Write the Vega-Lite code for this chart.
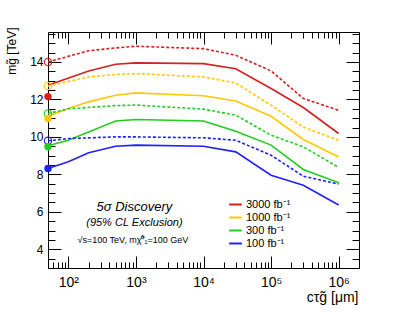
{
  "$schema": "https://vega.github.io/schema/vega-lite/v6.json",
  "width": 311,
  "height": 236,
  "autosize": {"type": "none"},
  "padding": {"left": 48, "top": 32, "right": 40, "bottom": 48},
  "background": "white",
  "config": {
    "font": "Liberation Sans",
    "view": {"stroke": "black", "strokeWidth": 1},
    "axis": {"domain": false, "grid": false, "tickColor": "black", "tickWidth": 1, "labelFont": "Liberation Sans", "titleFont": "Liberation Sans", "labelColor": "black", "titleColor": "black", "titleFontWeight": "normal"}
  },
  "data": {"values": [
    {"lumi": "3000 fb⁻¹", "kind": "disc", "ctau": 50, "m": 12.76},
    {"lumi": "3000 fb⁻¹", "kind": "disc", "ctau": 200, "m": 13.52},
    {"lumi": "3000 fb⁻¹", "kind": "disc", "ctau": 500, "m": 13.88},
    {"lumi": "3000 fb⁻¹", "kind": "disc", "ctau": 1000, "m": 13.95},
    {"lumi": "3000 fb⁻¹", "kind": "disc", "ctau": 10000, "m": 13.91},
    {"lumi": "3000 fb⁻¹", "kind": "disc", "ctau": 30000, "m": 13.64},
    {"lumi": "3000 fb⁻¹", "kind": "disc", "ctau": 100000, "m": 12.58},
    {"lumi": "3000 fb⁻¹", "kind": "disc", "ctau": 300000, "m": 11.57},
    {"lumi": "3000 fb⁻¹", "kind": "disc", "ctau": 1000000, "m": 10.18},
    {"lumi": "1000 fb⁻¹", "kind": "disc", "ctau": 50, "m": 11.1},
    {"lumi": "1000 fb⁻¹", "kind": "disc", "ctau": 100, "m": 11.51},
    {"lumi": "1000 fb⁻¹", "kind": "disc", "ctau": 200, "m": 11.87},
    {"lumi": "1000 fb⁻¹", "kind": "disc", "ctau": 500, "m": 12.22},
    {"lumi": "1000 fb⁻¹", "kind": "disc", "ctau": 1000, "m": 12.35},
    {"lumi": "1000 fb⁻¹", "kind": "disc", "ctau": 10000, "m": 12.2},
    {"lumi": "1000 fb⁻¹", "kind": "disc", "ctau": 30000, "m": 11.92},
    {"lumi": "1000 fb⁻¹", "kind": "disc", "ctau": 100000, "m": 11.1},
    {"lumi": "1000 fb⁻¹", "kind": "disc", "ctau": 300000, "m": 9.86},
    {"lumi": "1000 fb⁻¹", "kind": "disc", "ctau": 1000000, "m": 8.93},
    {"lumi": "300 fb⁻¹", "kind": "disc", "ctau": 50, "m": 9.53},
    {"lumi": "300 fb⁻¹", "kind": "disc", "ctau": 100, "m": 9.82},
    {"lumi": "300 fb⁻¹", "kind": "disc", "ctau": 500, "m": 10.85},
    {"lumi": "300 fb⁻¹", "kind": "disc", "ctau": 1000, "m": 10.93},
    {"lumi": "300 fb⁻¹", "kind": "disc", "ctau": 10000, "m": 10.85},
    {"lumi": "300 fb⁻¹", "kind": "disc", "ctau": 30000, "m": 10.3},
    {"lumi": "300 fb⁻¹", "kind": "disc", "ctau": 100000, "m": 9.56},
    {"lumi": "300 fb⁻¹", "kind": "disc", "ctau": 300000, "m": 8.26},
    {"lumi": "300 fb⁻¹", "kind": "disc", "ctau": 1000000, "m": 7.55},
    {"lumi": "100 fb⁻¹", "kind": "disc", "ctau": 50, "m": 8.31},
    {"lumi": "100 fb⁻¹", "kind": "disc", "ctau": 100, "m": 8.67},
    {"lumi": "100 fb⁻¹", "kind": "disc", "ctau": 200, "m": 9.15},
    {"lumi": "100 fb⁻¹", "kind": "disc", "ctau": 500, "m": 9.5},
    {"lumi": "100 fb⁻¹", "kind": "disc", "ctau": 1000, "m": 9.56},
    {"lumi": "100 fb⁻¹", "kind": "disc", "ctau": 10000, "m": 9.5},
    {"lumi": "100 fb⁻¹", "kind": "disc", "ctau": 30000, "m": 9.2},
    {"lumi": "100 fb⁻¹", "kind": "disc", "ctau": 100000, "m": 7.95},
    {"lumi": "100 fb⁻¹", "kind": "disc", "ctau": 300000, "m": 7.42},
    {"lumi": "100 fb⁻¹", "kind": "disc", "ctau": 1000000, "m": 6.36},
    {"lumi": "3000 fb⁻¹", "kind": "excl", "ctau": 50, "m": 14.0},
    {"lumi": "3000 fb⁻¹", "kind": "excl", "ctau": 200, "m": 14.6},
    {"lumi": "3000 fb⁻¹", "kind": "excl", "ctau": 500, "m": 14.75},
    {"lumi": "3000 fb⁻¹", "kind": "excl", "ctau": 1000, "m": 14.84},
    {"lumi": "3000 fb⁻¹", "kind": "excl", "ctau": 10000, "m": 14.71},
    {"lumi": "3000 fb⁻¹", "kind": "excl", "ctau": 30000, "m": 14.36},
    {"lumi": "3000 fb⁻¹", "kind": "excl", "ctau": 100000, "m": 13.52},
    {"lumi": "3000 fb⁻¹", "kind": "excl", "ctau": 300000, "m": 12.05},
    {"lumi": "3000 fb⁻¹", "kind": "excl", "ctau": 1000000, "m": 11.42},
    {"lumi": "1000 fb⁻¹", "kind": "excl", "ctau": 50, "m": 12.72},
    {"lumi": "1000 fb⁻¹", "kind": "excl", "ctau": 200, "m": 13.2},
    {"lumi": "1000 fb⁻¹", "kind": "excl", "ctau": 500, "m": 13.33},
    {"lumi": "1000 fb⁻¹", "kind": "excl", "ctau": 1000, "m": 13.38},
    {"lumi": "1000 fb⁻¹", "kind": "excl", "ctau": 10000, "m": 13.2},
    {"lumi": "1000 fb⁻¹", "kind": "excl", "ctau": 30000, "m": 12.88},
    {"lumi": "1000 fb⁻¹", "kind": "excl", "ctau": 100000, "m": 11.69},
    {"lumi": "1000 fb⁻¹", "kind": "excl", "ctau": 300000, "m": 10.53},
    {"lumi": "1000 fb⁻¹", "kind": "excl", "ctau": 1000000, "m": 9.82},
    {"lumi": "300 fb⁻¹", "kind": "excl", "ctau": 50, "m": 11.25},
    {"lumi": "300 fb⁻¹", "kind": "excl", "ctau": 100, "m": 11.5},
    {"lumi": "300 fb⁻¹", "kind": "excl", "ctau": 500, "m": 11.67},
    {"lumi": "300 fb⁻¹", "kind": "excl", "ctau": 1000, "m": 11.7},
    {"lumi": "300 fb⁻¹", "kind": "excl", "ctau": 10000, "m": 11.48},
    {"lumi": "300 fb⁻¹", "kind": "excl", "ctau": 30000, "m": 11.16},
    {"lumi": "300 fb⁻¹", "kind": "excl", "ctau": 100000, "m": 10.09},
    {"lumi": "300 fb⁻¹", "kind": "excl", "ctau": 300000, "m": 9.47},
    {"lumi": "300 fb⁻¹", "kind": "excl", "ctau": 1000000, "m": 8.37},
    {"lumi": "100 fb⁻¹", "kind": "excl", "ctau": 50, "m": 9.79},
    {"lumi": "100 fb⁻¹", "kind": "excl", "ctau": 100, "m": 9.91},
    {"lumi": "100 fb⁻¹", "kind": "excl", "ctau": 500, "m": 10.0},
    {"lumi": "100 fb⁻¹", "kind": "excl", "ctau": 1000, "m": 10.0},
    {"lumi": "100 fb⁻¹", "kind": "excl", "ctau": 10000, "m": 9.95},
    {"lumi": "100 fb⁻¹", "kind": "excl", "ctau": 30000, "m": 9.82},
    {"lumi": "100 fb⁻¹", "kind": "excl", "ctau": 100000, "m": 9.02},
    {"lumi": "100 fb⁻¹", "kind": "excl", "ctau": 300000, "m": 7.9},
    {"lumi": "100 fb⁻¹", "kind": "excl", "ctau": 1000000, "m": 7.48},
    {"lumi": "3000 fb⁻¹", "kind": "discpt", "ctau": 50, "m": 12.15},
    {"lumi": "1000 fb⁻¹", "kind": "discpt", "ctau": 50, "m": 10.98},
    {"lumi": "300 fb⁻¹", "kind": "discpt", "ctau": 50, "m": 9.47},
    {"lumi": "100 fb⁻¹", "kind": "discpt", "ctau": 50, "m": 8.31},
    {"lumi": "3000 fb⁻¹", "kind": "exclpt", "ctau": 50, "m": 14.0},
    {"lumi": "1000 fb⁻¹", "kind": "exclpt", "ctau": 50, "m": 12.72},
    {"lumi": "300 fb⁻¹", "kind": "exclpt", "ctau": 50, "m": 11.25},
    {"lumi": "100 fb⁻¹", "kind": "exclpt", "ctau": 50, "m": 9.79}
  ]},
  "layer": [
    {
      "transform": [{"filter": "datum.kind == 'disc'"}],
      "mark": {"type": "line", "strokeWidth": 1.6},
      "encoding": {
        "x": {"field": "ctau", "type": "quantitative", "scale": {"type": "log", "domain": [50, 2000000], "nice": false},
          "axis": {"orient": "bottom", "values": [100, 1000, 10000, 100000, 1000000], "ticks": false, "labelPadding": 7, "labelFontSize": 14,
            "labelExpr": "datum.value == 100 ? '10²' : datum.value == 1000 ? '10³' : datum.value == 10000 ? '10⁴' : datum.value == 100000 ? '10⁵' : '10⁶'",
            "title": "cτg̃ [μm]", "titleFontSize": 14, "titleX": 310, "titleY": 29, "titleAlign": "right", "titleBaseline": "middle"}},
        "y": {"field": "m", "type": "quantitative", "scale": {"domain": [3, 15.6], "nice": false, "zero": false},
          "axis": {"orient": "left", "values": [4, 6, 8, 10, 12, 14], "ticks": false, "labelPadding": 5, "labelFontSize": 12,
            "title": "mg̃ [TeV]", "titleFontSize": 12, "titleAngle": -90, "titleX": -37, "titleY": -5, "titleAlign": "right", "titleBaseline": "middle"}},
        "color": {"field": "lumi", "type": "nominal",
          "scale": {"domain": ["3000 fb⁻¹", "1000 fb⁻¹", "300 fb⁻¹", "100 fb⁻¹"], "range": ["#d42020", "#ffc800", "#22cc22", "#2020ff"]},
          "legend": {"orient": "none", "legendX": 180, "legendY": 165, "title": null, "symbolType": "stroke", "symbolStrokeWidth": 2, "symbolSize": 160, "labelFontSize": 11, "labelFont": "Liberation Sans", "labelColor": "black", "rowPadding": -1, "labelOffset": 3}}
      }
    },
    {
      "transform": [{"filter": "datum.kind == 'excl'"}],
      "mark": {"type": "line", "strokeWidth": 1.6, "strokeDash": [3, 2]},
      "encoding": {
        "x": {"field": "ctau", "type": "quantitative", "scale": {"type": "log", "domain": [50, 2000000], "nice": false},
          "axis": {"orient": "top", "offset": -236, "values": [100, 1000, 10000, 100000, 1000000], "tickSize": 12, "labels": false, "title": null}},
        "y": {"field": "m", "type": "quantitative", "scale": {"domain": [3, 15.6], "nice": false, "zero": false},
          "axis": {"orient": "right", "offset": -311, "values": [4, 6, 8, 10, 12, 14], "tickSize": 13, "labels": false, "title": null}},
        "stroke": {"field": "lumi", "type": "nominal",
          "scale": {"domain": ["3000 fb⁻¹", "1000 fb⁻¹", "300 fb⁻¹", "100 fb⁻¹"], "range": ["#d42020", "#ffc800", "#22cc22", "#2020ff"]},
          "legend": null}
      }
    },
    {
      "transform": [{"filter": "datum.kind == 'exclpt'"}],
      "mark": {"type": "point", "filled": false, "size": 55, "strokeWidth": 1.1, "opacity": 1},
      "encoding": {
        "x": {"field": "ctau", "type": "quantitative", "scale": {"type": "log", "domain": [50, 2000000], "nice": false},
          "axis": {"orient": "bottom", "offset": -236, "values": [100, 1000, 10000, 100000, 1000000], "tickSize": 12, "labels": false, "title": null}},
        "y": {"field": "m", "type": "quantitative", "scale": {"domain": [3, 15.6], "nice": false, "zero": false},
          "axis": {"orient": "left", "offset": -311, "values": [4, 6, 8, 10, 12, 14], "tickSize": 13, "labels": false, "title": null}},
        "stroke": {"field": "lumi", "type": "nominal",
          "scale": {"domain": ["3000 fb⁻¹", "1000 fb⁻¹", "300 fb⁻¹", "100 fb⁻¹"], "range": ["#d42020", "#ffc800", "#22cc22", "#2020ff"]},
          "legend": null}
      }
    },
    {
      "transform": [{"filter": "datum.kind == 'discpt'"}],
      "mark": {"type": "point", "filled": true, "size": 55, "opacity": 1},
      "encoding": {
        "x": {"field": "ctau", "type": "quantitative", "scale": {"type": "log", "domain": [50, 2000000], "nice": false},
          "axis": {"orient": "top", "offset": -236, "values": [60, 70, 80, 90, 200, 300, 400, 500, 600, 700, 800, 900, 2000, 3000, 4000, 5000, 6000, 7000, 8000, 9000, 20000, 30000, 40000, 50000, 60000, 70000, 80000, 90000, 200000, 300000, 400000, 500000, 600000, 700000, 800000, 900000, 2000000], "tickSize": 6, "labels": false, "title": null}},
        "y": {"field": "m", "type": "quantitative", "scale": {"domain": [3, 15.6], "nice": false, "zero": false},
          "axis": {"orient": "right", "offset": -311, "values": [3, 3.5, 4.5, 5, 5.5, 6.5, 7, 7.5, 8.5, 9, 9.5, 10.5, 11, 11.5, 12.5, 13, 13.5, 14.5, 15, 15.5], "tickSize": 7, "labels": false, "title": null}},
        "fill": {"field": "lumi", "type": "nominal",
          "scale": {"domain": ["3000 fb⁻¹", "1000 fb⁻¹", "300 fb⁻¹", "100 fb⁻¹"], "range": ["#d42020", "#ffc800", "#22cc22", "#2020ff"]},
          "legend": null}
      }
    },
    {
      "data": {"values": [{"t": "5σ Discovery"}]},
      "mark": {"type": "text", "fontSize": 13, "fontStyle": "italic", "font": "Liberation Sans", "align": "center", "baseline": "middle", "color": "black"},
      "encoding": {
        "x": {"datum": 950, "type": "quantitative",
          "axis": {"orient": "bottom", "offset": -236, "values": [60, 70, 80, 90, 200, 300, 400, 500, 600, 700, 800, 900, 2000, 3000, 4000, 5000, 6000, 7000, 8000, 9000, 20000, 30000, 40000, 50000, 60000, 70000, 80000, 90000, 200000, 300000, 400000, 500000, 600000, 700000, 800000, 900000, 2000000], "tickSize": 6, "labels": false, "title": null}},
        "y": {"datum": 6.25, "type": "quantitative",
          "axis": {"orient": "left", "offset": -311, "values": [3, 3.5, 4.5, 5, 5.5, 6.5, 7, 7.5, 8.5, 9, 9.5, 10.5, 11, 11.5, 12.5, 13, 13.5, 14.5, 15, 15.5], "tickSize": 7, "labels": false, "title": null}},
        "text": {"field": "t"}
      }
    },
    {
      "data": {"values": [{"t": "(95% CL Exclusion)"}]},
      "mark": {"type": "text", "fontSize": 11, "fontStyle": "italic", "font": "Liberation Sans", "align": "center", "baseline": "middle", "color": "black"},
      "encoding": {
        "x": {"datum": 950, "type": "quantitative", "axis": null},
        "y": {"datum": 5.4, "type": "quantitative", "axis": null},
        "text": {"field": "t"}
      }
    },
    {
      "data": {"values": [{"t": "√s=100 TeV, mχ̃⁰₁=100 GeV"}]},
      "mark": {"type": "text", "fontSize": 9, "font": "Liberation Sans", "align": "center", "baseline": "middle", "color": "black"},
      "encoding": {
        "x": {"datum": 900, "type": "quantitative", "axis": null},
        "y": {"datum": 4.47, "type": "quantitative", "axis": null},
        "text": {"field": "t"}
      }
    }
  ],
  "resolve": {"axis": {"x": "independent", "y": "independent"}}
}
